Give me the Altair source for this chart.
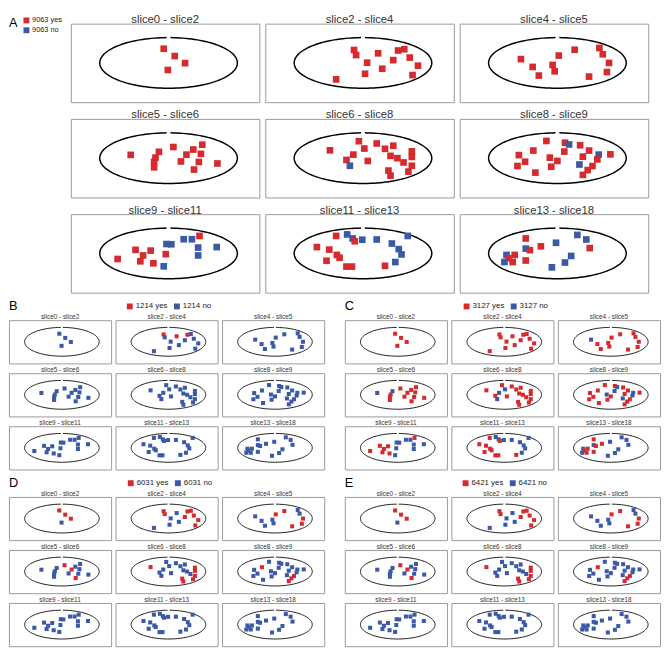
import altair as alt
import numpy as np
import pandas as pd

SUBS = ["slice0 - slice2", "slice2 - slice4", "slice4 - slice5",
        "slice5 - slice6", "slice6 - slice8", "slice8 - slice9",
        "slice9 - slice11", "slice11 - slice13", "slice13 - slice18"]

# spot positions (in ellipse radius units), identical in every panel
PX = [
    [-0.07, 0.09, 0.24, -0.01],
    [-0.13, -0.10, 0.22, 0.51, 0.60, 0.06, 0.44, 0.68, 0.80, 0.28, 0.03, 0.72, -0.39],
    [0.25, 0.61, 0.66, 0.75, 0.72, 0.46, 0.02, -0.53, -0.36, -0.07, -0.04, -0.27],
    [-0.55, -0.14, -0.19, -0.21, -0.21, 0.07, 0.26, 0.18, 0.36, 0.49, 0.47, 0.44, 0.37, 0.71],
    [-0.48, -0.06, 0.02, -0.14, -0.24, -0.19, 0.07, 0.20, 0.32, 0.44, 0.40, 0.50, 0.59,
     0.71, 0.71, 0.71, 0.66, 0.37, 0.40],
    [-0.16, 0.11, 0.17, 0.33, 0.46, 0.60, 0.77, -0.35, -0.56, -0.47, -0.58, -0.32, -0.11,
     0.00, -0.09, 0.10, 0.37, 0.58, 0.32, 0.51, 0.44, 0.37],
    [-0.74, -0.48, -0.37, -0.26, -0.41, -0.22, -0.04, -0.07, -0.03, 0.04, 0.22, 0.34, 0.45,
     0.43, 0.43, 0.70],
    [-0.39, -0.23, -0.15, -0.12, -0.01, 0.20, 0.65, -0.67, -0.49, -0.38, -0.34, -0.53, -0.24,
     -0.16, 0.42, 0.52, 0.56, 0.47, 0.32],
    [0.29, 0.42, 0.47, -0.02, -0.24, -0.46, -0.46, -0.40, -0.74, -0.62, -0.71, -0.77, -0.65,
     -0.46, 0.20, 0.11, -0.08],
]
PY = [
    [0.56, 0.27, -0.01, -0.28],
    [0.51, 0.31, 0.38, 0.49, 0.54, 0.01, 0.11, 0.21, -0.11, -0.23, -0.43, -0.48, -0.65],
    [0.52, 0.59, 0.34, 0.00, -0.36, -0.54, 0.29, 0.15, -0.16, -0.08, -0.33, -0.50],
    [0.13, 0.25, 0.02, -0.15, -0.36, 0.44, 0.14, -0.13, 0.34, 0.53, 0.17, -0.15, -0.45, -0.21],
    [0.31, 0.67, 0.38, 0.14, -0.07, -0.30, -0.11, 0.58, 0.37, 0.49, 0.09, 0.00, -0.17,
     0.27, 0.05, -0.30, -0.53, -0.49, -0.69],
    [0.68, 0.61, 0.54, 0.51, 0.30, 0.14, 0.15, 0.30, 0.12, -0.14, -0.31, -0.57, 0.02,
     -0.11, -0.34, 0.26, 0.06, -0.05, -0.25, -0.31, -0.47, -0.66],
    [-0.22, 0.14, -0.08, 0.11, -0.31, -0.39, -0.03, -0.51, 0.37, 0.36, 0.56, 0.56, 0.69,
     0.23, -0.08, 0.25],
    [0.69, 0.75, 0.59, 0.48, 0.54, 0.55, 0.69, 0.25, 0.15, -0.06, -0.17, -0.29, -0.52,
     -0.52, 0.39, 0.17, -0.04, -0.34, -0.49],
    [0.73, 0.55, 0.21, 0.42, 0.28, 0.59, 0.19, 0.13, -0.06, -0.06, -0.19, -0.34, -0.34,
     -0.28, -0.10, -0.36, -0.55],
]

# r = yes (red), b = no (blue), one string per sub-panel
COLORS = {
    "A": ["rrrr", "rrrrrrrrrrrrr", "rrrrrrrrrrrr", "rrrrrrrrrrrrrr",
          "rrrrrbrrrrrrrrrrrrr", "rrbrrbrrrrrrrrrrrrbrrr", "rrrrrrrbbbbbrbbb",
          "rbbrbbbrrrrrrrbbbbr", "bbrbrrbrbrrbrrbbb"],
    "B": ["bbbb", "rbrrbbbbbbbbb", "bbbbbbbbbbbb", "bbbbbbbbbbbbbb",
          "bbbbbbbbbbbbbbbbbbb", "bbbbbbbbbbbbbbbbbbbbbb", "bbbbbbbbbbbbbbbb",
          "bbbbbbbbbbbbbbbbbbb", "bbbbbbbbbbbbbbbbb"],
    "C": ["rrrr", "rrrrrrrrrrrrr", "rrrrrrrbrrrr", "bbrrrrrrrrrrrr",
          "rrbbrbrrrrrrrrrrrrr", "rrbrrbrrrrrrbrrbrbbrrr", "rrrrrrbbbbbbrbbb",
          "rbbrbbbrrrrrrrbbbbr", "bbbbrrbrbrrbrrbbb"],
    "D": ["rrrb", "rrbrrbrrrbbrb", "rbbrrrrbbbbb", "bbbbbrrbbbbbrb",
          "rbbbbbbbbbbbbrrrrrr", "bbbbbbbrbbbbbbbbbbbrrr", "bbbbbbbbbbbbbbbb",
          "bbbbbbbbbbbbbbbbbbb", "bbbbbbbbbbbbbbbbb"],
    "E": ["rrrb", "rrbrrbrrrbbrb", "rbbrrrrbbbbb", "bbbbbrrbbbbbrb",
          "rbbbbbbbbbbbbrrrrrr", "bbbbbbbrbbbbbbbbbbbrrr", "bbbbbbbbbbbbbbbb",
          "bbbbbbbbbbbbbbbbbbb", "bbbbbbbbbbbbbbbbb"],
}
TOTALS = {"A": "9063", "B": "1214", "C": "3127", "D": "6031", "E": "6421"}

RED = "#d52a2e"
BLUE = "#3a5aa8"
FONT = "Liberation Sans, Arial, Helvetica, sans-serif"


def cls_scale(letter):
    t = TOTALS[letter]
    return alt.Scale(domain=[f"{t} yes", f"{t} no"], range=[RED, BLUE])


def panel_df(letter):
    total = TOTALS[letter]
    rows = []
    for si, sub in enumerate(SUBS):
        for xx, yy, c in zip(PX[si], PY[si], COLORS[letter][si]):
            rows.append({"sub": sub, "kind": "pt", "x": xx, "y": yy, "o": 0,
                         "cls": f"{total} yes" if c == "r" else f"{total} no"})
        # ellipse outline with the small notch at the top
        for k, t in enumerate(np.deg2rad(np.linspace(91.6, 448.4, 140))):
            rows.append({"sub": sub, "kind": "ell", "x": float(np.cos(t)),
                         "y": float(np.sin(t)), "o": k, "cls": None})
    return pd.DataFrame(rows)


def legend_for(letter, big):
    common = dict(title=letter, titleOrient="left", titleFontSize=13,
                  titleFontWeight="normal", titleFont=FONT, titleColor="black",
                  labelFont=FONT, labelFontSize=7.5 if big else 8, labelColor="#222",
                  symbolType="square", symbolSize=36, symbolStrokeWidth=0,
                  symbolOpacity=1, labelOffset=2, padding=0)
    if big:
        return alt.Legend(orient="none", legendX=0, legendY=-7, direction="vertical",
                          titlePadding=5, titleAnchor="start", titleBaseline="top",
                          rowPadding=1, **common)
    return alt.Legend(orient="top", direction="horizontal", titlePadding=110,
                      titleAnchor="middle", titleBaseline="middle",
                      columnPadding=5, offset=0, **common)


def panel(letter, big):
    total = TOTALS[letter]
    df = panel_df(letter)
    if big:
        w, h, sq, lw, hfs, hpad, rsp, csp = 192, 80, 46, 1.5, 11.5, -2, 6, 4
        ydom = [-1.55, 1.55]
        legend = None
    else:
        w, h, sq, lw, hfs, hpad, rsp, csp = 104, 44, 17, 0.9, 6.5, -0.5, 2, 2.5
        ydom = [-1.5, 1.5]
        legend = legend_for(letter, False)
    xs = alt.X("x:Q", scale=alt.Scale(domain=[-1.42, 1.32], nice=False, zero=False), axis=None)
    ys = alt.Y("y:Q", scale=alt.Scale(domain=ydom, nice=False, zero=False), axis=None)
    ell = alt.Chart().mark_line(color="black", strokeWidth=lw).encode(
        x=xs, y=ys, order="o:Q").transform_filter(alt.datum.kind == "ell")
    pts = alt.Chart().mark_square(size=sq, opacity=1).encode(
        x=xs, y=ys,
        color=alt.Color("cls:N", scale=cls_scale(letter), legend=legend),
    ).transform_filter(alt.datum.kind == "pt")
    lay = alt.layer(ell, pts, data=df).properties(width=w, height=h)
    return lay.facet(
        facet=alt.Facet("sub:N", sort=SUBS, title=None,
                        header=alt.Header(labelFontSize=hfs, labelColor="#333",
                                          labelFont=FONT, labelPadding=hpad)),
        columns=3, spacing={"row": rsp, "column": csp})


# legend block for panel A (letter + two entries), left of the grid
legA_df = pd.DataFrame({"cls": [f"{TOTALS['A']} yes", f"{TOTALS['A']} no"]})
legA = alt.Chart(legA_df).mark_square(size=0).encode(
    color=alt.Color("cls:N", scale=cls_scale("A"), legend=legend_for("A", True)),
).properties(width=30, height=20, view=alt.ViewBackground(strokeOpacity=0))

rowA = alt.hconcat(legA, panel("A", True), spacing=8).resolve_scale(color="independent")
row1 = alt.hconcat(panel("B", False), panel("C", False), spacing=19).resolve_scale(color="independent")
row2 = alt.hconcat(panel("D", False), panel("E", False), spacing=19).resolve_scale(color="independent")
chart = alt.vconcat(rowA, row1, row2, spacing=9).resolve_scale(
    color="independent").properties(padding=0, background="white").configure_view(
    stroke="#9a9a9a", strokeWidth=1)

chart.save("out.html", embed_options={"renderer": "svg", "actions": False})
